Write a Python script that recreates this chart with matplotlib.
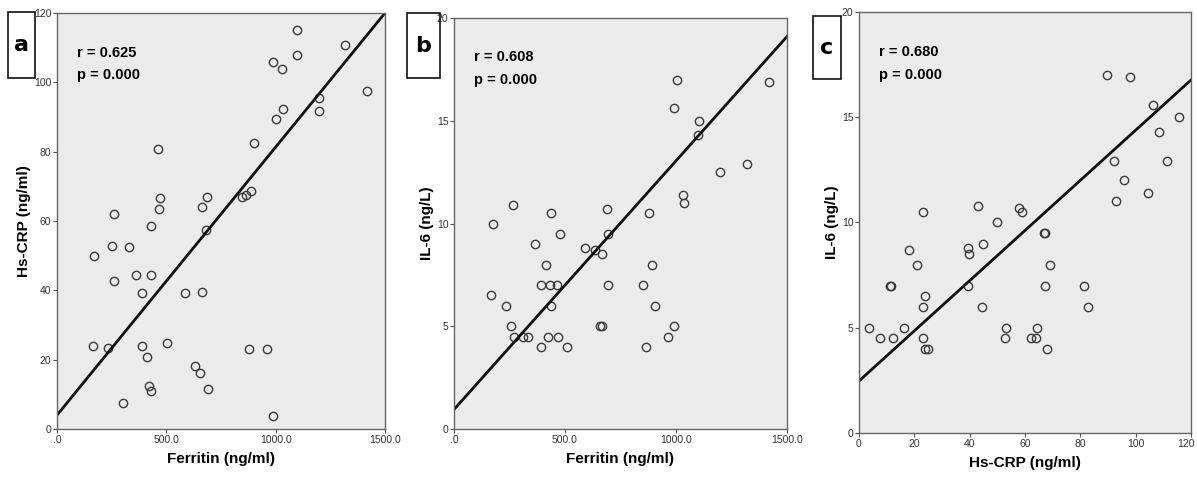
import matplotlib
matplotlib.use("Agg")
import matplotlib.pyplot as plt
import matplotlib.transforms as mtransforms

plt.rcParams['font.family'] = ['Liberation Sans', 'DejaVu Sans']

# panel a: Ferritin vs Hs-CRP
ferritin_a = [1096, 1317, 1096, 987, 1028, 1416, 1198, 1198, 1032, 1002, 903, 460,
              845, 865, 888, 688, 472, 466, 662, 682, 262, 431, 253, 327, 171, 359,
              432, 260, 388, 586, 664, 504, 164, 233, 387, 876, 962, 411, 633, 652,
              420, 429, 691, 303, 987]
hscrp_a = [115.2, 110.9, 107.8, 105.8, 103.9, 97.5, 95.5, 91.7, 92.4, 89.3, 82.4, 80.9,
           66.8, 67.5, 68.6, 67.0, 66.5, 63.6, 64.0, 57.4, 61.9, 58.7, 52.8, 52.5, 49.8,
           44.5, 44.3, 42.8, 39.3, 39.3, 39.6, 24.8, 23.8, 23.3, 23.8, 23.0, 23.0, 20.9,
           18.2, 16.1, 12.3, 11.0, 11.6, 7.5, 3.8]
fit_a = [4.0, 120.0]

# panel b: Ferritin vs IL-6
ferritin_b = [1005, 1419, 991, 1102, 1101, 1320, 1200, 1032, 1035, 266, 688, 435, 878,
              174, 477, 692, 365, 590, 637, 668, 414, 892, 392, 432, 464, 695, 850, 168,
              236, 435, 907, 257, 656, 665, 991, 269, 309, 332, 423, 470, 964, 392, 507,
              866]
il6_b = [17.0, 16.9, 15.6, 15.0, 14.3, 12.9, 12.5, 11.4, 11.0, 10.9, 10.7, 10.5, 10.5,
         10.0, 9.5, 9.5, 9.0, 8.8, 8.7, 8.5, 8.0, 8.0, 7.0, 7.0, 7.0, 7.0, 7.0, 6.5,
         6.0, 6.0, 6.0, 5.0, 5.0, 5.0, 5.0, 4.5, 4.5, 4.5, 4.5, 4.5, 4.5, 4.0, 4.0, 4.0]
fit_b = [0.95, 19.1]

# panel c: Hs-CRP vs IL-6
hscrp_c = [89.8, 98.1, 106.3, 115.7, 108.3, 92.1, 111.5, 95.9, 104.4, 92.8, 43.0, 57.7,
           59.0, 23.1, 50.0, 66.9, 67.3, 44.7, 18.2, 39.5, 39.8, 20.9, 69.0, 11.3, 11.5,
           39.5, 67.4, 81.4, 23.8, 23.2, 44.5, 82.6, 3.7, 16.2, 53.0, 64.4, 7.5, 12.2,
           23.0, 52.7, 62.0, 63.9, 23.8, 24.8, 68.1]
il6_c = [17.0, 16.9, 15.6, 15.0, 14.3, 12.9, 12.9, 12.0, 11.4, 11.0, 10.8, 10.7,
         10.5, 10.5, 10.0, 9.5, 9.5, 9.0, 8.7, 8.8, 8.5, 8.0, 8.0, 7.0, 7.0,
         7.0, 7.0, 7.0, 6.5, 6.0, 6.0, 6.0, 5.0, 5.0, 5.0, 5.0, 4.5, 4.5,
         4.5, 4.5, 4.5, 4.5, 4.0, 4.0, 4.0]
fit_c = [2.47, 16.77]

panels = [
    dict(x=ferritin_a, y=hscrp_a, fit=fit_a, xlim=(0, 1500), ylim=(0, 120),
         xticks=[0, 500, 1000, 1500], xtl=['.0', '500.0', '1000.0', '1500.0'],
         yticks=[0, 20, 40, 60, 80, 100, 120], ytl=['0', '20', '40', '60', '80', '100', '120'],
         xlabel='Ferritin (ng/ml)', ylabel='Hs-CRP (ng/ml)', r='r = 0.625',
         letter='a', rect=[57, 13, 385, 429], box=[8, 12, 35, 78]),
    dict(x=ferritin_b, y=il6_b, fit=fit_b, xlim=(0, 1500), ylim=(0, 20),
         xticks=[0, 500, 1000, 1500], xtl=['.0', '500.0', '1000.0', '1500.0'],
         yticks=[0, 5, 10, 15, 20], ytl=['0', '5', '10', '15', '20'],
         xlabel='Ferritin (ng/ml)', ylabel='IL-6 (ng/L)', r='r = 0.608',
         letter='b', rect=[454, 18, 787, 429], box=[407, 13, 440, 78]),
    dict(x=hscrp_c, y=il6_c, fit=fit_c, xlim=(0, 120), ylim=(0, 20),
         xticks=[0, 20, 40, 60, 80, 100, 120], xtl=['0', '20', '40', '60', '80', '100', '120'],
         yticks=[0, 5, 10, 15, 20], ytl=['0', '5', '10', '15', '20'],
         xlabel='Hs-CRP (ng/ml)', ylabel='IL-6 (ng/L)', r='r = 0.680',
         letter='c', rect=[859, 12, 1191, 433], box=[813, 16, 841, 79]),
]

W, H = 1197, 483
fig = plt.figure(figsize=(W / 100, H / 100), dpi=100)

for p in panels:
    l, t, r, b = p['rect']
    ax = fig.add_axes([l / W, 1 - b / H, (r - l) / W, (b - t) / H])
    ax.set_facecolor('#ebebeb')
    ax.plot(p['x'], p['y'], 'o', ms=6, mfc='none', mec='#3a3a3a', mew=1.0)
    ax.plot(p['xlim'], p['fit'], color='#111111', lw=2.0)
    ax.set_xlim(p['xlim'])
    ax.set_ylim(p['ylim'])
    ax.set_xticks(p['xticks'])
    ax.set_xticklabels(p['xtl'])
    ax.set_yticks(p['yticks'])
    ax.set_yticklabels(p['ytl'])
    ax.tick_params(labelsize=7.5, length=3, color='#555555', labelcolor='#333333', pad=1)
    for s in ax.spines.values():
        s.set_color('#666666')
        s.set_linewidth(1.0)
    ax.set_xlabel(p['xlabel'], fontsize=11, fontweight='bold', labelpad=5)
    ax.set_ylabel(p['ylabel'], fontsize=11, fontweight='bold', labelpad=2)
    ax.text(0.06, 0.905, p['r'], transform=ax.transAxes, fontsize=10.5,
            fontweight='bold', va='center')
    ax.text(0.06, 0.85, 'p = 0.000', transform=ax.transAxes, fontsize=10.5,
            fontweight='bold', va='center')

    bl, bt, br, bb = p['box']
    fig.text((bl + br) / 2 / W, 1 - (bt + bb) / 2 / H, p['letter'], fontsize=16,
             fontweight='bold', ha='center', va='center', family='DejaVu Sans')
    fig.patches.append(plt.Rectangle((bl / W, 1 - bb / H), (br - bl) / W, (bb - bt) / H,
                                     transform=fig.transFigure, fill=False,
                                     ec='#111111', lw=1.2, figure=fig))

# keep the last tick label of panel c inside the canvas
last = fig.axes[2].get_xticklabels()[-1]
last.set_transform(last.get_transform() +
                   mtransforms.ScaledTranslation(-5 / 100, 0, fig.dpi_scale_trans))

fig.savefig('out.png', dpi=100)
